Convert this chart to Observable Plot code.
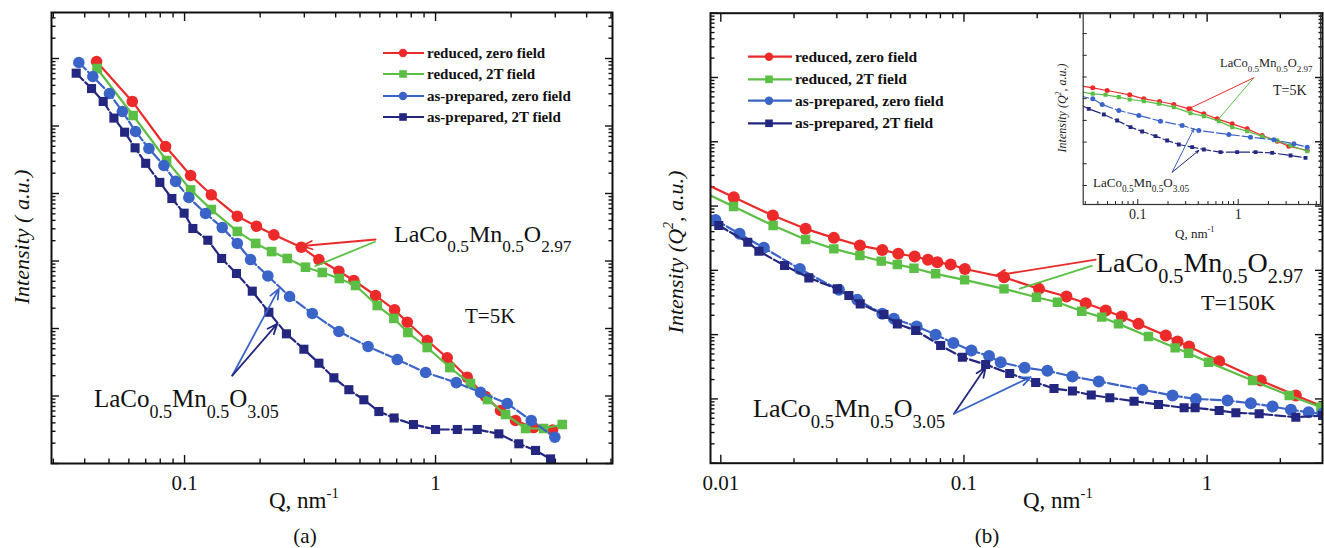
<!DOCTYPE html>
<html><head><meta charset="utf-8">
<script src="https://cdn.jsdelivr.net/npm/d3@7"></script>
<script src="https://cdn.jsdelivr.net/npm/@observablehq/plot@0.6"></script>
<style>
body{margin:0;background:#fff;}
#root{position:relative;width:1324px;height:548px;overflow:hidden;background:#fff;}
</style></head><body><div id="root"></div>
<script>
// ---------------- data ----------------
const seriesLabels = ["reduced, zero field", "reduced, 2T field", "as-prepared, zero field", "as-prepared, 2T field"];
const xTitle = "Q, nm";
const formulaReduced = ["LaCo", "0.5", "Mn", "0.5", "O", "2.97"];
const formulaPrepared = ["LaCo", "0.5", "Mn", "0.5", "O", "3.05"];

// panel (a), T = 5K
const aRedQ = [0.0446,0.0619,0.0840,0.1057,0.1278,0.1622,0.1934,0.2269,0.2917,0.3429,0.4119,0.4727,0.5768,0.6867,0.7716,0.9267,1.113,1.337,1.582,1.814,2.083,2.457,2.925];
const aRedI = [9.03e5,2.31e5,4.97e4,1.85e4,9.57e3,4.61e3,3.28e3,2.44e3,1.60e3,1.05e3,706,514,308,189,124,66.4,36.8,19.0,9.83,6.10,4.34,3.41,3.13];
const aGreenQ = [0.0448,0.0624,0.0848,0.1057,0.1278,0.1622,0.1920,0.2222,0.2565,0.3032,0.3537,0.4135,0.4801,0.5857,0.6823,0.7758,0.9267,1.140,1.378,1.611,1.901,2.284,2.694,3.198];
const aGreenI = [7.11e5,1.43e5,3.08e4,1.13e4,5.79e3,2.74e3,1.82e3,1.38e3,1.09e3,809,676,550,434,219,141,87.2,52.3,26.4,15.3,8.87,5.32,3.30,3.30,3.78];
const aBlueQ = [0.0379,0.0431,0.0502,0.0565,0.0638,0.0721,0.0827,0.0921,0.1040,0.1212,0.1413,0.1622,0.1832,0.2147,0.2620,0.3227,0.4119,0.5385,0.7039,0.9124,1.209,1.511,1.931,2.406,2.988];
const aBlueI = [8.73e5,5.41e5,3.03e5,1.64e5,8.29e4,4.64e4,2.60e4,1.51e4,8.73e3,5.06e3,3.13e3,1.82e3,1.05e3,600,298,167,90.3,54.1,34.7,22.3,15.8,11.3,7.74,4.34,2.45];
const aNavyQ = [0.0370,0.0426,0.0474,0.0523,0.0577,0.0635,0.0700,0.0797,0.0890,0.0996,0.1079,0.1238,0.1405,0.1610,0.1861,0.2167,0.2546,0.2988,0.3429,0.3935,0.4514,0.5180,0.5945,0.6837,0.8166,1.0,1.221,1.466,1.787,2.147,2.503,2.872];
const aNavyI = [6.06e5,3.59e5,2.31e5,1.31e5,8.09e4,4.75e4,2.80e4,1.46e4,8.43e3,5.11e3,3.03e3,2.03e3,1.09e3,653,357,174,83.4,49.3,30.6,18.6,12.4,8.79,5.89,4.72,3.78,3.19,3.19,3.19,2.75,1.96,1.56,1.17];

// panel (b), T = 150K, Intensity*Q^2
const bRedQ = [0.0079,0.01131,0.01637,0.02232,0.02917,0.03733,0.04615,0.0537,0.06269,0.07111,0.07772,0.08817,0.1009,0.1461,0.2035,0.2639,0.3168,0.3830,0.4457,0.5219,0.6761,0.7556,0.8433,1.121,1.663,2.317,3.1];
const bRedI = [2.6e4,1.37e4,7.11e3,4.42e3,3.20e3,2.43e3,2.08e3,1.81e3,1.64e3,1.46e3,1.34e3,1.23e3,1.05e3,781,515,391,308,237,191,147,96.8,78.2,65.3,38.6,19.3,11.3,7.17];
const bGreenQ = [0.0079,0.01128,0.01641,0.02232,0.02917,0.03733,0.04571,0.05321,0.06227,0.07647,0.1006,0.1461,0.1986,0.2423,0.3051,0.3688,0.4319,0.5739,0.7386,0.8387,1.013,1.538,2.175,2.937];
const bGreenI = [1.87e4,9.82e3,4.98e3,3.01e3,2.16e3,1.70e3,1.39e3,1.23e3,1.08e3,883,711,515,382,319,231,187,147,93.4,62.3,51.4,37.2,19.3,11.3,7.43];
const bBlueQ = [0.00951,0.01194,0.01503,0.02114,0.03059,0.03641,0.04615,0.05151,0.06389,0.07647,0.09045,0.1073,0.1268,0.1416,0.1777,0.2204,0.2793,0.3584,0.5422,0.7206,0.8985,1.213,1.513,1.858,2.211,2.615,2.985];
const bBlueI = [6.06e3,3.70e3,2.24e3,1.05e3,497,348,211,176,134,100,74.0,56.6,46.5,37.2,30.5,27.4,22.3,18.7,13.9,11.3,10.0,9.44,8.57,7.62,6.77,6.21,5.87];
const bNavyQ = [0.00981,0.01291,0.01434,0.01829,0.02302,0.03013,0.03363,0.03745,0.04686,0.05321,0.06329,0.08019,0.0985,0.1228,0.1542,0.1972,0.2346,0.2793,0.3338,0.3978,0.5006,0.6310,0.8044,0.8925,1.121,1.313,1.637,2.317,2.985];
const bNavyI = [4.98e3,2.74e3,1.98e3,1.19e3,764,515,405,301,206,147,116,67.7,44.5,34.3,24.8,18.0,14.5,13.3,11.5,10.4,9.21,8.18,7.27,7.27,6.60,6.08,5.87,5.19,5.52];

// inset of (b), T = 5K
const iRedQ = [0.026,0.0356,0.0495,0.083,0.1148,0.1645,0.2285,0.3224,0.4548,0.6174,0.871,1.229,1.733,2.444,3.194,4.865];
const iRedI = [4.0e4,3.17e4,2.39e4,1.51e4,9.86e3,7.43e3,5.41e3,3.41e3,2.01e3,1.18e3,695,408,201,110,65.0,41.0];
const iGreenQ = [0.026,0.0356,0.0477,0.0647,0.083,0.1148,0.162,0.2285,0.3349,0.4548,0.6412,0.871,1.229,1.733,2.444,3.319,4.865];
const iGreenI = [2.1e4,1.68e4,1.51e4,1.18e4,9.19e3,7.69e3,5.80e3,4.07e3,2.15e3,1.57e3,922,488,319,181,119,69.7,38.2];
const iBlueQ = [0.026,0.0356,0.0442,0.0647,0.1024,0.1683,0.2767,0.4054,0.8066,1.326,2.264,3.583,4.865];
const iBlueI = [1.35e4,9.86e3,5.41e3,2.86e3,1.68e3,922,582,342,224,169,127,83.2,58.4];
const iNavyQ = [0.026,0.0325,0.0459,0.0623,0.0846,0.1105,0.1501,0.1961,0.2562,0.348,0.4548,0.6665,0.9766,1.487,2.179,3.319,4.682];
const iNavyI = [5.5e3,3.41e3,1.87e3,989,488,308,188,119,77.5,58.4,45.6,34.4,34.4,34.4,32.0,24.1,18.8];

// annotation arrows [Q1, I1, Q2, I2]
const aArrows = [[0.5768,2083,0.2943,1668],[0.1549,20.1,0.2375,387],[0.1549,20.1,0.234,117]];
const aLinks  = [[0.5768,1945,0.3297,829]];
const bArrows = [[0.3483,1472,0.1351,830],[0.0910,5.87,0.1228,31.1],[0.0910,5.87,0.1881,21.9]];
const bLinks  = [[0.3376,1188,0.1684,515]];
const iArrows = [[1.430,9.18e4,0.3222,3.43e3],[0.2201,4.10,0.3614,410],[0.2201,4.10,0.405,41]];
const iLinks  = [[1.430,9.18e4,0.641,1.19e3]];

// ---------------- styles ----------------
const SERIF = "'Liberation Serif', 'Times New Roman', serif";
const RED = "#ec2a2a", GREEN = "#5bbf45", BLUE = "#3b64c8", NAVY = "#23277f";
const STY = [
  {color: RED, symbol: "circle", dash: null},
  {color: GREEN, symbol: "square", dash: null},
  {color: BLUE, symbol: "circle", dash: "10,3"},
  {color: NAVY, symbol: "square", dash: "10,3"}
];
const root = document.getElementById("root");
function place(el, left, top) {
  el.style.position = "absolute"; el.style.left = left + "px"; el.style.top = top + "px";
  root.appendChild(el);
}
function logTicks(lo, hi, withMinor = true) {
  const maj = [], min = [];
  for (let e = Math.floor(Math.log10(lo)); e <= Math.ceil(Math.log10(hi)); e++) {
    for (let m = 1; m < 10; m++) {
      const v = +(m * Math.pow(10, e)).toPrecision(6);
      if (v < lo || v > hi) continue;
      if (m === 1) maj.push(v); else if (withMinor) min.push(v);
    }
  }
  return {maj, min};
}
function seriesMarks(qs, is, st, r, sw) {
  const data = qs.map((q, k) => ({q, I: is[k]}));
  const lineOpts = {x: "q", y: "I", stroke: st.color, strokeWidth: sw, clip: true};
  if (st.dash) lineOpts.strokeDasharray = st.dash;
  return [
    Plot.line(data, lineOpts),
    Plot.dot(data, {x: "q", y: "I", fill: st.color, r: st.symbol === "circle" ? r : r * 0.95, symbol: st.symbol, clip: true})
  ];
}
function tickMarks(xt, yt, L, l, sw) {
  const o = (n) => ({fill: "none", label: null, tickSize: -n, strokeWidth: sw});
  const m = [];
  for (const a of ["bottom", "top"]) {
    m.push(Plot.axisX(xt.maj, {...o(L), anchor: a}));
    if (xt.min.length) m.push(Plot.axisX(xt.min, {...o(l), anchor: a}));
  }
  for (const a of ["left", "right"]) {
    if (!yt) continue;
    m.push(Plot.axisY(yt.maj, {...o(L), anchor: a}));
    if (yt.min.length) m.push(Plot.axisY(yt.min, {...o(l), anchor: a}));
  }
  return m;
}
function arrowMarks(arr, links, colors, linkColors, head, sw) {
  const ad = arr.map((d, k) => ({x1: d[0], y1: d[1], x2: d[2], y2: d[3], c: colors[k]}));
  const ld = links.map((d, k) => ({x1: d[0], y1: d[1], x2: d[2], y2: d[3], c: linkColors[k]}));
  return [
    Plot.link(ld, {x1: "x1", y1: "y1", x2: "x2", y2: "y2", stroke: d => d.c, strokeWidth: sw}),
    Plot.arrow(ad, {x1: "x1", y1: "y1", x2: "x2", y2: "y2", stroke: d => d.c, strokeWidth: sw, headLength: head, headAngle: 45})
  ];
}

// ---------------- panel (a) ----------------
const aXd = [0.0295, 5.07], aYd = [1, Math.pow(10, 451 / 67.5)];
const aXt = logTicks(...aXd), aYt = logTicks(...aYd);
const plotA = Plot.plot({
  width: 660, height: 548, marginLeft: 51, marginRight: 48, marginTop: 12, marginBottom: 85,
  style: {background: "transparent", fontFamily: SERIF, fontSize: "21px", color: "#111"},
  x: {type: "log", domain: aXd}, y: {type: "log", domain: aYd},
  color: {type: "identity"},
  marks: [
    Plot.axisX([0.1, 1], {anchor: "bottom", tickSize: 0, tickPadding: 12, tickFormat: d => String(d), label: null, fontSize: 21}),
    ...tickMarks(aXt, aYt, 8, 4.5, 1.4),
    ...seriesMarks(aRedQ, aRedI, STY[0], 5.8, 2.2),
    ...seriesMarks(aGreenQ, aGreenI, STY[1], 5.7, 2.2),
    ...seriesMarks(aBlueQ, aBlueI, STY[2], 5.8, 2.2),
    ...seriesMarks(aNavyQ, aNavyI, STY[3], 5.4, 2.2),
    ...arrowMarks(aArrows, aLinks, [RED, BLUE, NAVY], [GREEN], 9, 1.8),
    Plot.frame({stroke: "#111", strokeWidth: 2})
  ]
});
place(plotA, 0, 0);

// ---------------- panel (b) ----------------
const bXd = [0.00907, 2.982], bYd = [1, 1e7];
const bXt = logTicks(...bXd), bYt = logTicks(...bYd);
const plotB = Plot.plot({
  width: 664, height: 548, marginLeft: 50, marginRight: 2, marginTop: 12.7, marginBottom: 85.3,
  style: {background: "transparent", fontFamily: SERIF, fontSize: "21px", color: "#111"},
  x: {type: "log", domain: bXd}, y: {type: "log", domain: bYd},
  color: {type: "identity"},
  marks: [
    Plot.axisX([0.01, 0.1, 1], {anchor: "bottom", tickSize: 0, tickPadding: 12, tickFormat: d => String(d), label: null, fontSize: 21}),
    ...tickMarks(bXt, bYt, 8, 4.5, 1.4),
    ...seriesMarks(bRedQ, bRedI, STY[0], 6.0, 2.2),
    ...seriesMarks(bGreenQ, bGreenI, STY[1], 5.6, 2.2),
    ...seriesMarks(bBlueQ, bBlueI, STY[2], 6.0, 2.2),
    ...seriesMarks(bNavyQ, bNavyI, STY[3], 5.4, 2.2),
    ...arrowMarks(bArrows, bLinks, [RED, NAVY, BLUE], [GREEN], 9, 1.8),
    Plot.frame({stroke: "#111", strokeWidth: 2})
  ]
});
place(plotB, 660, 0);

// ---------------- inset ----------------
const iXd = [0.0286, 6.6], iYd = [Math.pow(10, -0.876), Math.pow(10, 7.926)];
const iXt = logTicks(...iXd), iYt = logTicks(...iYd, false);
const plotI = Plot.plot({
  width: 284, height: 250, marginLeft: 42.7, marginRight: 4, marginTop: 13, marginBottom: 46,
  style: {background: "transparent", fontFamily: SERIF, fontSize: "14px", color: "#222"},
  x: {type: "log", domain: iXd}, y: {type: "log", domain: iYd},
  color: {type: "identity"},
  marks: [
    Plot.axisX([0.1, 1], {anchor: "bottom", tickSize: 0, tickPadding: 4.4, tickFormat: d => String(d), label: null, fontSize: 14}),
    Plot.axisX(iXt.maj, {anchor: "bottom", fill: "none", label: null, tickSize: -5, strokeWidth: 1}),
    Plot.axisX(iXt.min, {anchor: "bottom", fill: "none", label: null, tickSize: -3, strokeWidth: 1}),
    Plot.axisY(iYt.maj, {anchor: "left", fill: "none", label: null, tickSize: -4, strokeWidth: 1}),
    ...seriesMarks(iRedQ, iRedI, STY[0], 2.5, 1.2),
    ...seriesMarks(iGreenQ, iGreenI, STY[1], 2.4, 1.2),
    ...seriesMarks(iBlueQ, iBlueI, STY[2], 2.5, 1.2),
    ...seriesMarks(iNavyQ, iNavyI, STY[3], 2.3, 1.2),
    ...arrowMarks(iArrows, iLinks, [RED, BLUE, NAVY], [GREEN], 5, 1),
    Plot.frame({stroke: "#333", strokeWidth: 1.2})
  ]
});
place(plotI, 1040, 0);

// ---------------- overlay text ----------------
const ov = d3.create("svg").attr("width", 1324).attr("height", 548).style("pointer-events", "none");
place(ov.node(), 0, 0);
function rich(x, y, parts, size, o = {}) {
  const t = ov.append("text").attr("x", x).attr("y", y)
    .attr("font-family", SERIF).attr("font-size", size).attr("fill", o.fill || "#111")
    .attr("text-anchor", o.anchor || "start");
  if (o.italic) t.attr("font-style", "italic");
  if (o.weight) t.attr("font-weight", o.weight);
  if (o.rotate) t.attr("transform", `rotate(${o.rotate},${x},${y})`);
  let cur = 0;
  for (const p of parts) {
    const [s, k] = Array.isArray(p) ? p : [p, null];
    const off = k === "sub" ? size * 0.42 : k === "sup" ? -size * 0.45 : 0;
    const fs = k === "sub" ? size * 0.72 : k === "sup" ? size * 0.64 : size;
    t.append("tspan").attr("dy", off - cur).attr("font-size", fs).text(s);
    cur = off;
  }
  return t;
}
const formulaParts = f => f.map((s, k) => k % 2 ? [s, "sub"] : s);
function legend(x0, x1, xm, rows, fs) {
  STY.forEach((st, k) => {
    const y = rows[k];
    ov.append("line").attr("x1", x0).attr("x2", x1).attr("y1", y).attr("y2", y)
      .attr("stroke", st.color).attr("stroke-width", 2.2);
    if (st.symbol === "circle") ov.append("circle").attr("cx", xm).attr("cy", y).attr("r", 4.2).attr("fill", st.color);
    else ov.append("rect").attr("x", xm - 3.8).attr("y", y - 3.8).attr("width", 7.6).attr("height", 7.6).attr("fill", st.color);
    rich(x1 + 3, y + 5, [seriesLabels[k]], fs, {weight: "bold"});
  });
}
// panel (a)
legend(383, 424, 403, [53, 74, 96, 117], 15);
rich(394, 242, formulaParts(formulaReduced), 24);
rich(465, 323, ["T=5K"], 21);
rich(94, 407, formulaParts(formulaPrepared), 25);
rich(29, 237, ["Intensity ( a.u.)"], 22, {italic: true, anchor: "middle", rotate: -90});
rich(269, 508, [xTitle, ["-1", "sup"]], 23);
rich(305, 543, ["(a)"], 21, {anchor: "middle"});
// panel (b)
legend(748, 792, 769, [56.7, 79.3, 100.7, 123.3], 15.5);
rich(1096, 271.7, formulaParts(formulaReduced), 28);
rich(1201, 310, ["T=150K"], 22);
rich(753, 416.7, formulaParts(formulaPrepared), 26);
rich(683, 252, ["Intensity (Q", ["2", "sup"], ", a.u.)"], 22, {italic: true, anchor: "middle", rotate: -90});
rich(1023, 508, [xTitle, ["-1", "sup"]], 23);
rich(987, 543, ["(b)"], 21, {anchor: "middle"});
// inset
rich(1066, 108, ["Intensity (Q", ["2", "sup"], ", a.u.)"], 12, {italic: true, anchor: "middle", rotate: -90, fill: "#222"});
rich(1175, 238, [xTitle, ["-1", "sup"]], 13, {fill: "#222"});
rich(1220, 66.7, formulaParts(formulaReduced), 12.5, {fill: "#222"});
rich(1273, 95, ["T=5K"], 14, {fill: "#222"});
rich(1093, 187, formulaParts(formulaPrepared), 13, {fill: "#222"});
</script>
</body></html>
